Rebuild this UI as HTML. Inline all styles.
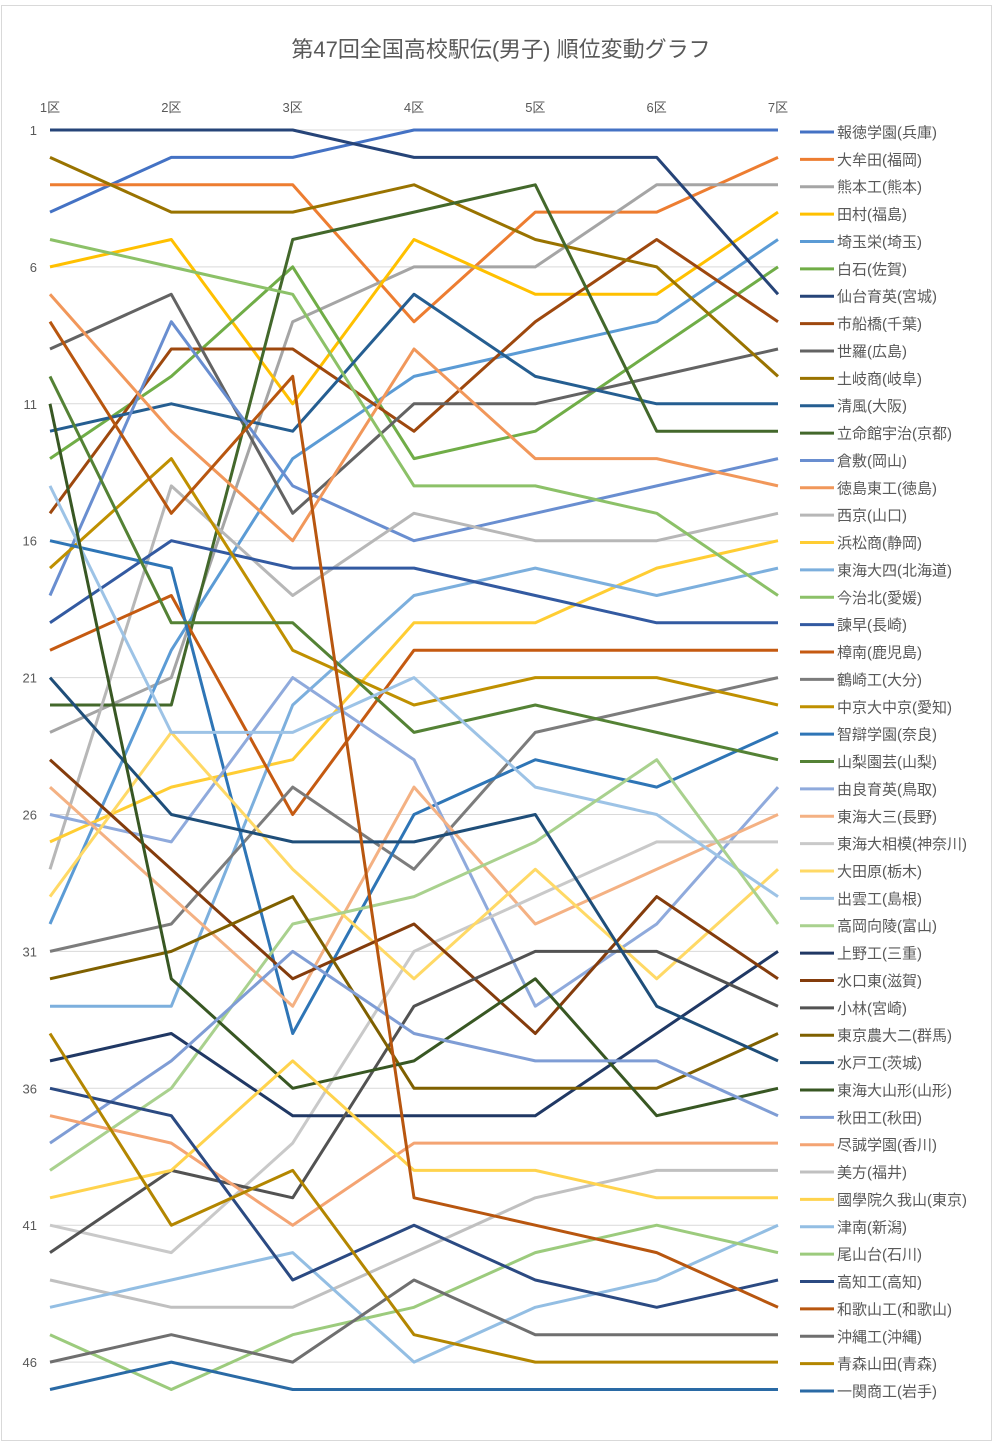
<!DOCTYPE html>
<html><head><meta charset="utf-8">
<style>
html,body{margin:0;padding:0;background:#fff;}
body{width:999px;height:1449px;overflow:hidden;font-family:"Liberation Sans","Noto Sans CJK JP",sans-serif;}
svg text{font-family:"Liberation Sans","Noto Sans CJK JP",sans-serif;fill:#595959;}
</style></head>
<body>
<svg id="chart" width="999" height="1449" xmlns="http://www.w3.org/2000/svg">
<rect x="1.5" y="5.5" width="990" height="1435" fill="#fff" stroke="#d9d9d9"/>
<text x="501" y="57" text-anchor="middle" font-size="22">第47回全国高校駅伝(男子) 順位変動グラフ</text>
<g id="grid"></g><g id="xlabels"></g><g id="ylabels"></g><g id="series"></g><g id="legend"></g>
</svg>
<script>
const stages = ["1区","2区","3区","4区","5区","6区","7区"];
const yTicks = [1,6,11,16,21,26,31,36,41,46];
const teams = ["報徳学園(兵庫)","大牟田(福岡)","熊本工(熊本)","田村(福島)","埼玉栄(埼玉)","白石(佐賀)","仙台育英(宮城)","市船橋(千葉)","世羅(広島)","土岐商(岐阜)","清風(大阪)","立命館宇治(京都)","倉敷(岡山)","徳島東工(徳島)","西京(山口)","浜松商(静岡)","東海大四(北海道)","今治北(愛媛)","諫早(長崎)","樟南(鹿児島)","鶴崎工(大分)","中京大中京(愛知)","智辯学園(奈良)","山梨園芸(山梨)","由良育英(鳥取)","東海大三(長野)","東海大相模(神奈川)","大田原(栃木)","出雲工(島根)","高岡向陵(富山)","上野工(三重)","水口東(滋賀)","小林(宮崎)","東京農大二(群馬)","水戸工(茨城)","東海大山形(山形)","秋田工(秋田)","尽誠学園(香川)","美方(福井)","國學院久我山(東京)","津南(新潟)","尾山台(石川)","高知工(高知)","和歌山工(和歌山)","沖縄工(沖縄)","青森山田(青森)","一関商工(岩手)"];
const colors = ["#4472C4","#ED7D31","#A5A5A5","#FFC000","#5B9BD5","#70AD47","#264478","#9E480E","#636363","#997300","#255E91","#43682B","#698ED0","#F1975A","#B7B7B7","#FFCD33","#7CAFDD","#8CC168","#335AA1","#C55A11","#7C7C7C","#BF9000","#2E75B6","#548235","#8FAADC","#F4B183","#C9C9C9","#FFD966","#9DC3E6","#A9D18E","#203864","#843C0C","#525252","#7F6000","#1F4E79","#385723","#7F9DD5","#F4A473","#C0C0C0","#FFD34D","#93BEE3","#9CCB7D","#2B4A82","#B8560F","#6F6F6F","#B38600","#2A6AA5"];
const r1 = [4,3,23,6,30,13,1,15,9,2,12,22,18,7,28,27,33,5,19,20,31,17,16,10,26,25,41,29,14,39,35,24,42,32,21,11,38,37,43,40,44,45,36,8,46,34,47];
const r2 = [2,3,21,5,20,10,1,9,7,4,11,22,8,12,14,25,33,6,16,18,30,13,17,19,27,29,42,23,23,36,34,28,39,31,26,32,35,38,44,39,43,47,37,15,45,41,46];
const r3 = [2,3,8,11,13,6,1,9,15,4,12,5,14,16,18,24,22,7,17,26,25,20,34,19,21,33,38,28,23,30,37,32,40,29,27,36,31,41,44,35,42,45,43,10,46,39,47];
const r4 = [1,8,6,5,10,13,2,12,11,3,7,4,16,9,15,19,18,14,17,20,28,22,26,23,24,25,31,32,21,29,37,30,33,36,27,35,34,38,42,39,46,44,41,40,43,45,47];
const r5 = [1,4,6,7,9,12,2,8,11,5,10,3,15,13,16,19,17,14,18,20,23,21,24,22,33,30,29,28,25,27,37,34,31,36,26,32,35,38,40,39,44,42,43,41,45,46,47];
const r6 = [1,4,3,7,8,9,2,5,10,6,11,12,14,13,16,17,18,15,19,20,22,21,25,23,30,28,27,32,26,24,34,29,31,36,33,37,35,38,39,40,43,41,44,42,45,46,47];
const r7 = [1,2,3,4,5,6,7,8,9,10,11,12,13,14,15,16,17,18,19,20,21,22,23,24,25,26,27,28,29,30,31,32,33,34,35,36,37,38,39,40,41,42,43,44,45,46,47];

const NS="http://www.w3.org/2000/svg";
const X0=50, X1=778, Y0=130, DY=27.38;
function xs(i){return X0+i*(X1-X0)/(stages.length-1);}
function ys(r){return Y0+(r-1)*DY;}
function mk(tag,attrs,parent){const e=document.createElementNS(NS,tag);for(const k in attrs)e.setAttribute(k,attrs[k]);parent.appendChild(e);return e;}
const grid=document.getElementById('grid'),xl=document.getElementById('xlabels'),yl=document.getElementById('ylabels'),sg=document.getElementById('series'),lg=document.getElementById('legend');
yTicks.forEach(t=>{
  const l=mk('line',{x1:X0,x2:X1,y1:ys(t),y2:ys(t),stroke:'#d9d9d9','stroke-width':1},grid);
  
  
  const tx=mk('text',{x:37,y:ys(t)+5,'text-anchor':'end','font-size':13},yl);
  tx.textContent=t;
  
  
});
stages.forEach((s,i)=>{
  const tx=mk('text',{x:xs(i),y:112,'text-anchor':'middle','font-size':13},xl);
  tx.textContent=s;
  
  
});
const ranks=[r1,r2,r3,r4,r5,r6,r7];
teams.forEach((t,k)=>{
  const pts=ranks.map((r,i)=>xs(i).toFixed(1)+','+ys(r[k]).toFixed(1)).join(' ');
  const pl=mk('polyline',{points:pts,fill:'none',stroke:colors[k],'stroke-width':3,'stroke-linejoin':'round'},sg);
  
  
  const ly=132+k*27.37;
  const ll=mk('line',{x1:800,x2:834,y1:ly,y2:ly,stroke:colors[k],'stroke-width':3},lg);
  
  
  const lt=mk('text',{x:837,y:ly+5.5,'font-size':15},lg);
  lt.textContent=t;
  
  
});
</script>
</body></html>
